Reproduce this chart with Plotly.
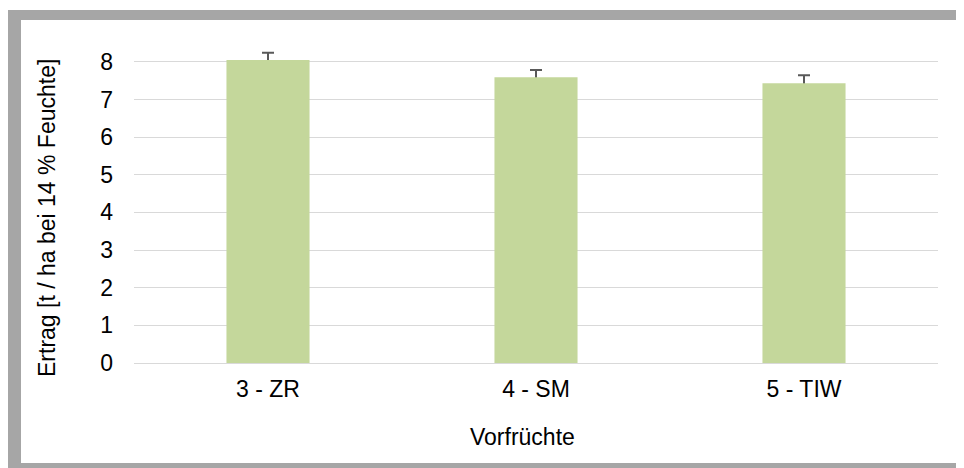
import plotly.graph_objects as go

categories = ["3 - ZR", "4 - SM", "5 - TIW"]
ertrag = [8.05, 7.59, 7.43]
fehler = [0.19, 0.19, 0.21]
y_ticks = [0, 1, 2, 3, 4, 5, 6, 7, 8]

OFF = 8  # page body margin
W, H = 964, 468
L, R, T, B = 126, 34, 32, 113
pw, ph = W - L - R, H - T - B

def px(xs):
    return (xs - OFF - L) / pw

def py(ys):
    return (H - B - (ys - OFF)) / ph

font = dict(family="Liberation Sans, Arial, sans-serif", size=23, color="#000000")

# error bars drawn behind bars so that only the upper whisker shows
hidden = 0.3
err_trace = go.Scatter(
    x=categories, y=[v - hidden for v in ertrag], mode="markers",
    marker=dict(size=1, color="rgba(0,0,0,0)"),
    error_y=dict(type="data", array=[e + hidden for e in fehler], symmetric=False,
                 arrayminus=[0, 0, 0], color="#595959", thickness=2, width=6),
    cliponaxis=False, hoverinfo="skip", zorder=0,
)
bar_trace = go.Bar(
    x=categories, y=ertrag,
    marker=dict(color="#c4d79b", line=dict(width=0)),
    cliponaxis=False, zorder=1,
)

fig = go.Figure([err_trace, bar_trace])

fig.update_layout(
    width=W, height=H,
    margin=dict(l=L, r=R, t=T, b=B),
    paper_bgcolor="white", plot_bgcolor="rgba(0,0,0,0)",
    bargap=0.69,
    font=font,
    showlegend=False,
    xaxis=dict(showgrid=False, showline=False, ticks="", tickfont=font,
               ticklabelstandoff=10),
    yaxis=dict(range=[0, ph / 37.65], tickvals=y_ticks, showgrid=True,
               gridcolor="#d9d9d9", gridwidth=1.3, zeroline=True,
               zerolinecolor="#d9d9d9", zerolinewidth=1.3, showline=False,
               ticks="", tickfont=font, ticklabelstandoff=20),
    shapes=[
        dict(type="rect", xref="paper", yref="paper", layer="below",
             x0=px(8), x1=px(990), y0=py(490), y1=py(10),
             fillcolor="#a6a6a6", line=dict(width=0)),
        dict(type="rect", xref="paper", yref="paper", layer="below",
             x0=px(21), x1=px(960), y0=py(463), y1=py(20),
             fillcolor="white", line=dict(width=0)),
    ],
    annotations=[
        dict(text="Ertrag [t / ha bei 14 % Feuchte]", xref="paper", yref="paper",
             x=px(47), y=py(218), textangle=-90, showarrow=False, font=font,
             xanchor="center", yanchor="middle"),
        dict(text="Vorfrüchte", xref="paper", yref="paper",
             x=px(522), y=py(437), showarrow=False, font=font,
             xanchor="center", yanchor="middle"),
    ],
)

fig.write_html("out.html")
